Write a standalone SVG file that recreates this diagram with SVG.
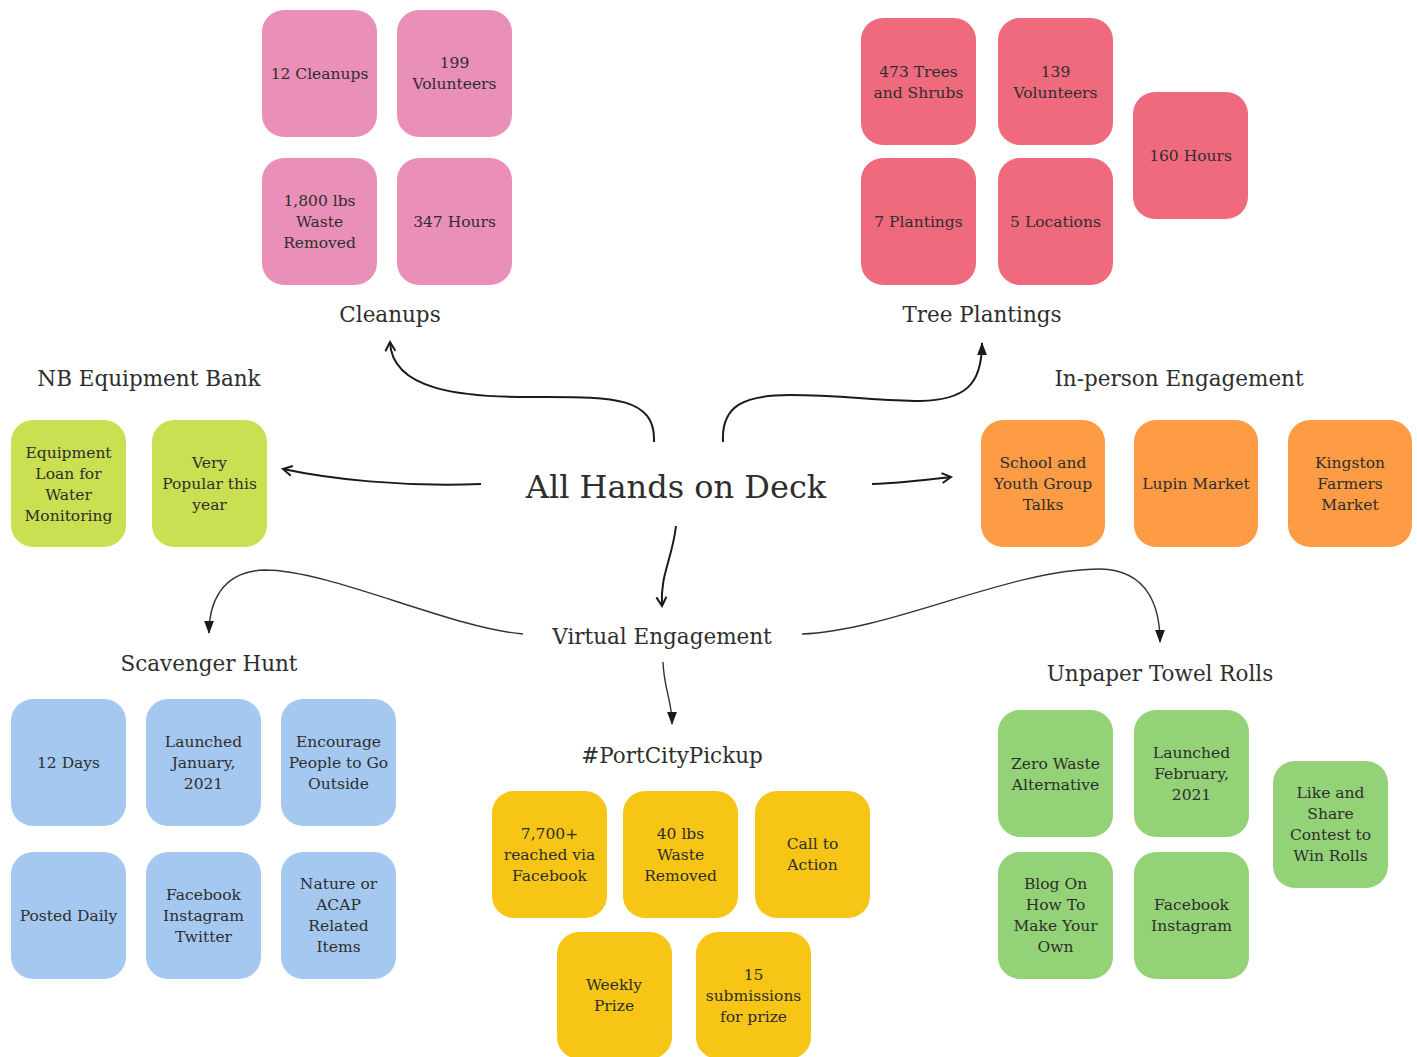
<svg xmlns="http://www.w3.org/2000/svg" width="1417" height="1057" viewBox="0 0 1417 1057">
<style>
text{font-family:"DejaVu Serif","Liberation Serif",serif;fill:#2e2e2e;text-anchor:middle}
.b{font-size:15.5px}
.t{font-size:21.5px}
.m{font-size:32px}
.pink{fill:#EA8FB8}.red{fill:#F06A7D}.lime{fill:#CADF52}.orange{fill:#FD9C45}.blue{fill:#A5C8F0}.yellow{fill:#F7C515}.green{fill:#93D277}
.c{fill:none;stroke:#1a1a1a;stroke-width:2}
.c2{fill:none;stroke:#333;stroke-width:1.4}
</style>
<defs>
<marker id="open" viewBox="0 0 12 12" refX="10" refY="6" markerWidth="12" markerHeight="12" markerUnits="userSpaceOnUse" orient="auto"><path d="M1,1 L10,6 L1,11" fill="none" stroke="#1a1a1a" stroke-width="2"/></marker>
<marker id="fill" viewBox="0 0 12 12" refX="11" refY="6" markerWidth="13" markerHeight="13" markerUnits="userSpaceOnUse" orient="auto"><path d="M0,1.5 L12,6 L0,10.5 Z" fill="#1a1a1a"/></marker>
</defs>
<rect width="1417" height="1057" fill="#fff"/>

<g id="connectors">
<path class="c" d="M654,442 C656,396 610,397 540,397 C460,398 392,390 390,342" marker-end="url(#open)"/>
<path class="c" d="M723,442 C721,405 745,395 790,395 C840,395 880,401 920,401 C965,400 982,385 982,343" marker-end="url(#fill)"/>
<path class="c" d="M481,484 C400,487 330,479 283,469" marker-end="url(#open)"/>
<path class="c" d="M872,484 C900,483 925,480 951,477" marker-end="url(#open)"/>
<path class="c" d="M676,526 C672,560 660,575 662,606" marker-end="url(#open)"/>
<path class="c2" d="M523,634 C450,628 330,570 265,570 C220,571 209,605 209,633" marker-end="url(#fill)"/>
<path class="c2" d="M802,634 C890,631 1010,569 1100,569 C1150,570 1160,610 1160,642" marker-end="url(#fill)"/>
<path class="c2" d="M663,662 C664,690 672,700 672,724" marker-end="url(#fill)"/>
</g>

<g id="main"><text class="m" x="676" y="498">All Hands on Deck</text></g>
<g id="virtual"><text class="t" x="662" y="644">Virtual Engagement</text></g>

<g id="cleanups">
<text class="t" x="390" y="322">Cleanups</text>
<rect class="pink" x="262" y="10" width="115" height="127" rx="22"/>
<text class="b" x="319.5" y="79">12 Cleanups</text>
<rect class="pink" x="397" y="10" width="115" height="127" rx="22"/>
<text class="b" x="454.5" y="68">199<tspan x="454.5" dy="21">Volunteers</tspan></text>
<rect class="pink" x="262" y="158" width="115" height="127" rx="22"/>
<text class="b" x="319.5" y="206">1,800 lbs<tspan x="319.5" dy="21">Waste</tspan><tspan x="319.5" dy="21">Removed</tspan></text>
<rect class="pink" x="397" y="158" width="115" height="127" rx="22"/>
<text class="b" x="454.5" y="227">347 Hours</text>
</g>

<g id="tree-plantings">
<text class="t" x="982" y="322">Tree Plantings</text>
<rect class="red" x="861" y="18" width="115" height="127" rx="22"/>
<text class="b" x="918.5" y="77">473 Trees<tspan x="918.5" dy="21">and Shrubs</tspan></text>
<rect class="red" x="998" y="18" width="115" height="127" rx="22"/>
<text class="b" x="1055.5" y="77">139<tspan x="1055.5" dy="21">Volunteers</tspan></text>
<rect class="red" x="1133" y="92" width="115" height="127" rx="22"/>
<text class="b" x="1190.5" y="161">160 Hours</text>
<rect class="red" x="861" y="158" width="115" height="127" rx="22"/>
<text class="b" x="918.5" y="227">7 Plantings</text>
<rect class="red" x="998" y="158" width="115" height="127" rx="22"/>
<text class="b" x="1055.5" y="227">5 Locations</text>
</g>

<g id="nb-equipment-bank">
<text class="t" x="149" y="386">NB Equipment Bank</text>
<rect class="lime" x="11" y="420" width="115" height="127" rx="22"/>
<text class="b" x="68.5" y="458">Equipment<tspan x="68.5" dy="21">Loan for</tspan><tspan x="68.5" dy="21">Water</tspan><tspan x="68.5" dy="21">Monitoring</tspan></text>
<rect class="lime" x="152" y="420" width="115" height="127" rx="22"/>
<text class="b" x="209.5" y="468">Very<tspan x="209.5" dy="21">Popular this</tspan><tspan x="209.5" dy="21">year</tspan></text>
</g>

<g id="in-person-engagement">
<text class="t" x="1179" y="386">In-person Engagement</text>
<rect class="orange" x="981" y="420" width="124" height="127" rx="22"/>
<text class="b" x="1043" y="468">School and<tspan x="1043" dy="21">Youth Group</tspan><tspan x="1043" dy="21">Talks</tspan></text>
<rect class="orange" x="1134" y="420" width="124" height="127" rx="22"/>
<text class="b" x="1196" y="489">Lupin Market</text>
<rect class="orange" x="1288" y="420" width="124" height="127" rx="22"/>
<text class="b" x="1350" y="468">Kingston<tspan x="1350" dy="21">Farmers</tspan><tspan x="1350" dy="21">Market</tspan></text>
</g>

<g id="scavenger-hunt">
<text class="t" x="209" y="671">Scavenger Hunt</text>
<rect class="blue" x="11" y="699" width="115" height="127" rx="22"/>
<text class="b" x="68.5" y="768">12 Days</text>
<rect class="blue" x="146" y="699" width="115" height="127" rx="22"/>
<text class="b" x="203.5" y="747">Launched<tspan x="203.5" dy="21">January,</tspan><tspan x="203.5" dy="21">2021</tspan></text>
<rect class="blue" x="281" y="699" width="115" height="127" rx="22"/>
<text class="b" x="338.5" y="747">Encourage<tspan x="338.5" dy="21">People to Go</tspan><tspan x="338.5" dy="21">Outside</tspan></text>
<rect class="blue" x="11" y="852" width="115" height="127" rx="22"/>
<text class="b" x="68.5" y="921">Posted Daily</text>
<rect class="blue" x="146" y="852" width="115" height="127" rx="22"/>
<text class="b" x="203.5" y="900">Facebook<tspan x="203.5" dy="21">Instagram</tspan><tspan x="203.5" dy="21">Twitter</tspan></text>
<rect class="blue" x="281" y="852" width="115" height="127" rx="22"/>
<text class="b" x="338.5" y="889">Nature or<tspan x="338.5" dy="21">ACAP</tspan><tspan x="338.5" dy="21">Related</tspan><tspan x="338.5" dy="21">Items</tspan></text>
</g>

<g id="portcitypickup">
<text class="t" x="672" y="763">#PortCityPickup</text>
<rect class="yellow" x="492" y="791" width="115" height="127" rx="22"/>
<text class="b" x="549.5" y="839">7,700+<tspan x="549.5" dy="21">reached via</tspan><tspan x="549.5" dy="21">Facebook</tspan></text>
<rect class="yellow" x="623" y="791" width="115" height="127" rx="22"/>
<text class="b" x="680.5" y="839">40 lbs<tspan x="680.5" dy="21">Waste</tspan><tspan x="680.5" dy="21">Removed</tspan></text>
<rect class="yellow" x="755" y="791" width="115" height="127" rx="22"/>
<text class="b" x="812.5" y="849">Call to<tspan x="812.5" dy="21">Action</tspan></text>
<rect class="yellow" x="557" y="932" width="115" height="127" rx="22"/>
<text class="b" x="614" y="990">Weekly<tspan x="614" dy="21">Prize</tspan></text>
<rect class="yellow" x="696" y="932" width="115" height="127" rx="22"/>
<text class="b" x="753.5" y="980">15<tspan x="753.5" dy="21">submissions</tspan><tspan x="753.5" dy="21">for prize</tspan></text>
</g>

<g id="unpaper-towel-rolls">
<text class="t" x="1160" y="681">Unpaper Towel Rolls</text>
<rect class="green" x="998" y="710" width="115" height="127" rx="22"/>
<text class="b" x="1055.5" y="769">Zero Waste<tspan x="1055.5" dy="21">Alternative</tspan></text>
<rect class="green" x="1134" y="710" width="115" height="127" rx="22"/>
<text class="b" x="1191.5" y="758">Launched<tspan x="1191.5" dy="21">February,</tspan><tspan x="1191.5" dy="21">2021</tspan></text>
<rect class="green" x="1273" y="761" width="115" height="127" rx="22"/>
<text class="b" x="1330.5" y="798">Like and<tspan x="1330.5" dy="21">Share</tspan><tspan x="1330.5" dy="21">Contest to</tspan><tspan x="1330.5" dy="21">Win Rolls</tspan></text>
<rect class="green" x="998" y="852" width="115" height="127" rx="22"/>
<text class="b" x="1055.5" y="889">Blog On<tspan x="1055.5" dy="21">How To</tspan><tspan x="1055.5" dy="21">Make Your</tspan><tspan x="1055.5" dy="21">Own</tspan></text>
<rect class="green" x="1134" y="852" width="115" height="127" rx="22"/>
<text class="b" x="1191.5" y="910">Facebook<tspan x="1191.5" dy="21">Instagram</tspan></text>
</g>
</svg>
